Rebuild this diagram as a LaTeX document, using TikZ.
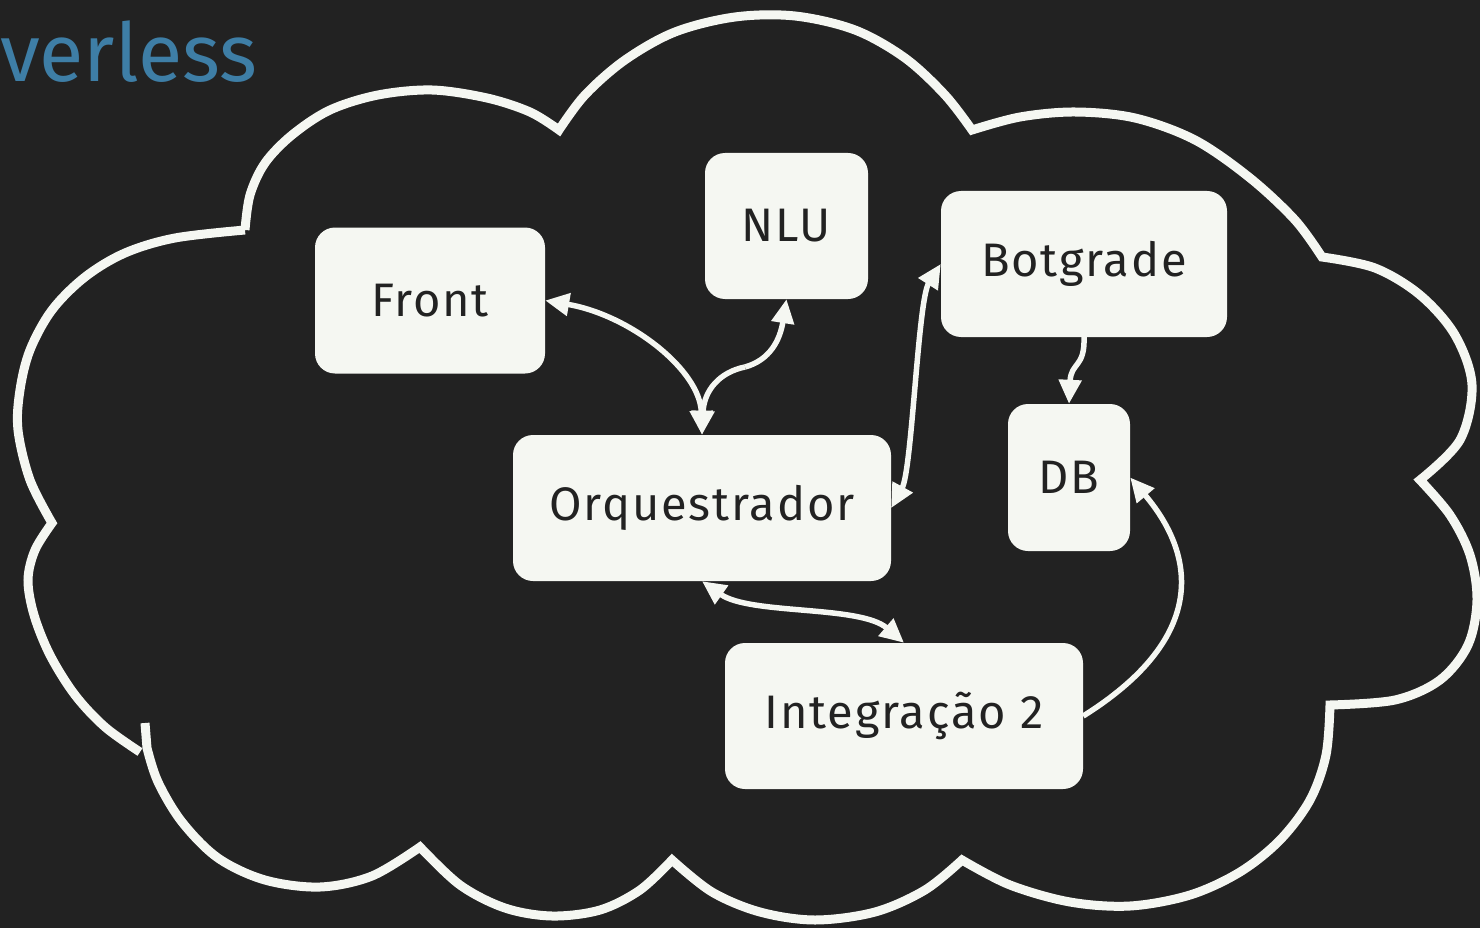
\documentclass[tikz,border=0pt]{standalone}
\usepackage{fontspec}
\setmainfont{Fira Sans}
\usetikzlibrary{arrows.meta}
\definecolor{bg}{HTML}{222222}
\definecolor{fg}{HTML}{F5F7F2}
\definecolor{titleblue}{HTML}{3E7EA6}
\begin{document}
\begin{tikzpicture}[x=1pt,y=-1pt,
  box/.style={fill=fg, text=bg, rounded corners=20pt, inner sep=0pt,
    font=\fontsize{47}{50}\selectfont\addfontfeature{LetterSpace=4}},
  cloudline/.style={draw=fg, line width=9pt, line join=miter, miter limit=4},
  conn/.style={draw=fg, line width=5.5pt},
  hd/.style={arrows={-Triangle[length=24pt,width=22pt]}},
  dbl/.style={arrows={Triangle[length=24pt,width=22pt]-Triangle[length=24pt,width=22pt]}}]
\fill[bg] (0,0) rectangle (1480,928);
\useasboundingbox (0,0) rectangle (1480,928);

% title fragment
\node[anchor=base west, inner sep=0pt, text=titleblue, font=\fontsize{81}{86}\selectfont] (title) at (0,82) {verless};

% cloud
\draw[cloudline]
  plot[smooth,tension=0.55] coordinates {(245,230) (250,195) (265,163) (292,135) (330,110) (378,95) (432,90) (487,98) (530,112) (559,130)}
  -- plot[smooth,tension=0.55] coordinates {(559,130) (585,95) (625,60) (675,32) (735,17) (795,16) (855,30) (905,58) (945,95) (972,130)}
  -- plot[smooth,tension=0.55] coordinates {(972,130) (1020,117) (1075,112) (1135,118) (1195,140) (1250,178) (1295,220) (1322,257)}
  -- plot[smooth,tension=0.55] coordinates {(1322,257) (1375,268) (1420,295) (1455,335) (1472,385) (1460,440) (1420,480)}
  -- plot[smooth,tension=0.55] coordinates {(1420,480) (1450,515) (1470,555) (1477,600) (1468,645) (1440,680) (1395,700) (1330,705)}
  -- plot[smooth,tension=0.55] coordinates {(1330,705) (1326,755) (1310,800) (1280,840) (1240,872) (1190,895) (1130,906) (1070,902) (1010,885) (962,860)}
  -- plot[smooth,tension=0.55] coordinates {(962,860) (925,890) (875,912) (815,920) (760,912) (712,892) (672,860)}
  -- plot[smooth,tension=0.55] coordinates {(672,860) (640,890) (600,910) (552,916) (505,908) (460,885) (420,847)}
  -- plot[smooth,tension=0.55] coordinates {(420,847) (372,876) (320,887) (265,880) (218,858) (182,822) (158,782) (147,748)}
  -- (145,723);
\draw[cloudline]
  plot[smooth,tension=0.55] coordinates {(140,752) (105,727) (75,695) (50,655) (34,615) (28,580) (35,550) (52,523)}
  -- plot[smooth,tension=0.55] coordinates {(52,523) (30,480) (18,430) (20,390) (30,350) (52,310) (85,277) (125,253) (175,238) (245,230)};

% boxes
\node[box, minimum width=230pt, minimum height=146pt] (front) at (430,300.5) {Front};
\node[box, minimum width=163pt, minimum height=146pt] (nlu) at (786.5,226) {NLU};
\node[box, minimum width=286pt, minimum height=146pt] (bot) at (1084,264) {Botgrade};
\node[box, minimum width=122pt, minimum height=147pt] (db) at (1069,477.5) {DB};
\node[box, minimum width=378pt, minimum height=146pt] (orq) at (702,508) {Orquestrador};
\node[box, minimum width=358pt, minimum height=146pt] (integ) at (904,716) {Integração 2};

\coordinate (m1) at (745,367);

% connectors
\draw[conn,dbl] (front.east) .. controls (630,315) and (700,370) .. (orq.north);
\draw[conn,-{Triangle[length=24pt,width=22pt]}] (m1) .. controls (770,360) and (780,340) .. (nlu.south);
\draw[conn,-{Triangle[length=24pt,width=22pt]}] (m1) .. controls (720,372) and (704,390) .. (orq.north);
\draw[conn,dbl] (bot.west) .. controls (918,300) and (912,470) .. (orq.east);
\draw[conn,hd] (bot.south) .. controls (1085,368) and (1071,362) .. (db.north);
\draw[conn,dbl] (orq.south) .. controls (750,615) and (860,605) .. (integ.north);
\draw[conn,hd] (integ.east) .. controls (1203,641) and (1200,560) .. (db.east);
\end{tikzpicture}
\end{document}
